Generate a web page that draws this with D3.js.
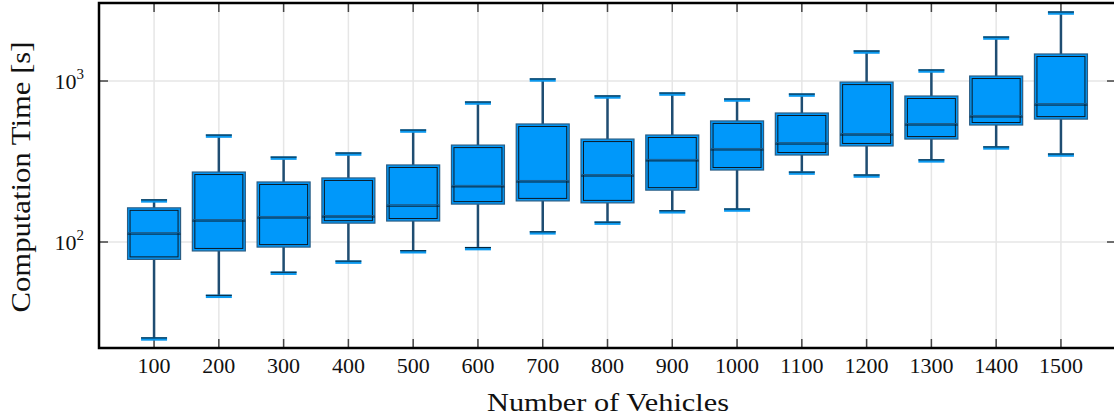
<!DOCTYPE html>
<html lang="en">
<head>
<meta charset="UTF-8">
<title>Computation Time</title>
<script src="https://d3js.org/d3.v7.min.js"></script>
<style>
body { margin: 0; background: #fff; }
text { font-family: "Liberation Serif", "DejaVu Serif", serif; fill: #111; }
</style>
</head>
<body>
<script>
// box plot data (seconds)
var vehicles = [100, 200, 300, 400, 500, 600, 700, 800, 900, 1000, 1100, 1200, 1300, 1400, 1500];
var whiskerLow  = [25, 46, 64, 75, 87, 91, 114, 131, 154, 158, 268, 257, 319, 384, 347];
var q1          = [78, 88, 93, 131, 135, 172, 180, 175, 210, 280, 347, 395, 436, 533, 580];
var median      = [112, 135, 141, 143, 167, 220, 236, 257, 319, 373, 406, 462, 533, 598, 709];
var q3          = [163, 272, 236, 250, 301, 400, 541, 436, 462, 565, 633, 985, 807, 1074, 1472];
var whiskerHigh = [180, 455, 332, 352, 489, 730, 1015, 796, 830, 762, 818, 1514, 1154, 1849, 2645];
var yTicks = [100, 1000];

var width = 1114, height = 419;
var pLeft = 99, pRight = 1116, pTop = 3, pBottom = 348;

var x = d3.scaleLinear().domain([15, 1585]).range([pLeft, pRight]);
var y = d3.scaleLog().domain([21.96, 3052]).range([pBottom, pTop]);

var svg = d3.select("body").append("svg")
  .attr("width", width)
  .attr("height", height);

// grid
var grid = svg.append("g");
grid.selectAll(".vg").data(vehicles).enter().append("line")
  .attr("x1", function(d) { return x(d); }).attr("x2", function(d) { return x(d); })
  .attr("y1", pTop).attr("y2", pBottom)
  .attr("stroke", "#e6e6e6").attr("stroke-width", 1.5);
grid.selectAll(".hg").data(yTicks).enter().append("line")
  .attr("x1", pLeft).attr("x2", pRight)
  .attr("y1", function(d) { return y(d); }).attr("y2", function(d) { return y(d); })
  .attr("stroke", "#e6e6e6").attr("stroke-width", 1.5);

// ticks, all pointing inwards
var ticks = svg.append("g").attr("stroke", "#444").attr("stroke-width", 1.5);
vehicles.forEach(function(v) {
  ticks.append("line").attr("x1", x(v)).attr("x2", x(v)).attr("y1", pBottom).attr("y2", pBottom - 9);
  ticks.append("line").attr("x1", x(v)).attr("x2", x(v)).attr("y1", pTop).attr("y2", pTop + 9);
});
yTicks.forEach(function(t) {
  ticks.append("line").attr("x1", pLeft).attr("x2", pLeft + 9).attr("y1", y(t)).attr("y2", y(t));
  ticks.append("line").attr("x1", pRight - 9).attr("x2", pRight).attr("y1", y(t)).attr("y2", y(t));
});

// boxes
var bw = 53, cw = 26;
var boxes = svg.append("g");
vehicles.forEach(function(v, i) {
  var cx = x(v);
  var g = boxes.append("g");
  // whiskers
  g.append("line").attr("x1", cx).attr("x2", cx)
    .attr("y1", y(whiskerHigh[i])).attr("y2", y(q3[i]))
    .attr("stroke", "#1f4d72").attr("stroke-width", 2.5);
  g.append("line").attr("x1", cx).attr("x2", cx)
    .attr("y1", y(q1[i])).attr("y2", y(whiskerLow[i]))
    .attr("stroke", "#1f4d72").attr("stroke-width", 2.5);
  // caps
  [whiskerHigh[i], whiskerLow[i]].forEach(function(w) {
    g.append("line").attr("x1", cx - cw / 2).attr("x2", cx + cw / 2)
      .attr("y1", y(w)).attr("y2", y(w))
      .attr("stroke", "#0a98ee").attr("stroke-width", 3.5);
    g.append("line").attr("x1", cx - cw / 2).attr("x2", cx + cw / 2)
      .attr("y1", y(w) - 1).attr("y2", y(w) - 1)
      .attr("stroke", "#0b1a26").attr("stroke-width", 1);
  });
  // box
  g.append("rect")
    .attr("x", cx - bw / 2).attr("y", y(q3[i]))
    .attr("width", bw).attr("height", y(q1[i]) - y(q3[i]))
    .attr("fill", "#0098fa").attr("stroke", "#2a5d84").attr("stroke-width", 1.2);
  g.append("rect")
    .attr("x", cx - bw / 2 + 2.5).attr("y", y(q3[i]) + 2.5)
    .attr("width", bw - 5).attr("height", y(q1[i]) - y(q3[i]) - 5)
    .attr("fill", "none").attr("stroke", "#0b1a26").attr("stroke-width", 1);
  // median
  g.append("line").attr("x1", cx - bw / 2).attr("x2", cx + bw / 2)
    .attr("y1", y(median[i])).attr("y2", y(median[i]))
    .attr("stroke", "#0b1a26").attr("stroke-width", 1);
  g.append("line").attr("x1", cx - bw / 2).attr("x2", cx + bw / 2)
    .attr("y1", y(median[i]) - 1.5).attr("y2", y(median[i]) - 1.5)
    .attr("stroke", "#1b5e8e").attr("stroke-width", 1);
});

// frame: left, top, bottom
svg.append("path")
  .attr("d", "M" + pRight + "," + pTop + "H" + pLeft + "V" + pBottom + "H" + pRight)
  .attr("fill", "none").attr("stroke", "#000").attr("stroke-width", 2.5);

// x tick labels
svg.append("g").selectAll("text").data(vehicles).enter().append("text")
  .attr("x", function(d) { return x(d); })
  .attr("y", 373)
  .attr("text-anchor", "middle")
  .style("font-size", "22px")
  .text(function(d) { return d; });

// y tick labels 10^n
yTicks.forEach(function(t) {
  var tx = svg.append("text")
    .attr("x", 84).attr("y", y(t) + 8)
    .attr("text-anchor", "end")
    .style("font-size", "22px");
  tx.append("tspan").text("10");
  tx.append("tspan").attr("dy", -10).style("font-size", "15px").text(Math.round(Math.log10(t)));
});

// axis titles
svg.append("text")
  .attr("x", 608).attr("y", 411)
  .attr("text-anchor", "middle")
  .attr("textLength", 242).attr("lengthAdjust", "spacingAndGlyphs")
  .style("font-size", "26px")
  .text("Number of Vehicles");

svg.append("text")
  .attr("transform", "translate(30,177) rotate(-90)")
  .attr("text-anchor", "middle")
  .attr("textLength", 271).attr("lengthAdjust", "spacingAndGlyphs")
  .style("font-size", "27px")
  .text("Computation Time [s]");
</script>
</body>
</html>
